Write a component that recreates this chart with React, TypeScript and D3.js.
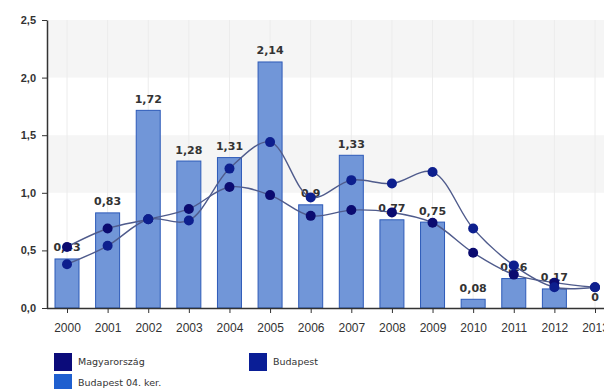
import React, { useEffect, useRef } from 'react';
import * as d3 from 'd3';

const years = ['2000', '2001', '2002', '2003', '2004', '2005', '2006', '2007', '2008', '2009', '2010', '2011', '2012', '2013'];
const kerulet = [0.43, 0.83, 1.72, 1.28, 1.31, 2.14, 0.9, 1.33, 0.77, 0.75, 0.08, 0.26, 0.17, 0];
const magyarorszag = [0.53, 0.69, 0.77, 0.86, 1.05, 0.98, 0.8, 0.85, 0.83, 0.74, 0.48, 0.29, 0.22, 0.18];
const budapest = [0.38, 0.54, 0.77, 0.76, 1.21, 1.44, 0.96, 1.11, 1.08, 1.18, 0.69, 0.37, 0.18, 0.18];
const yTicks = [0, 0.5, 1, 1.5, 2, 2.5];
const legendItems = ['Magyarország', 'Budapest', 'Budapest 04. ker.'];

const fmt = (v: number) => String(v).replace('.', ',');

const App: React.FC = () => {
  const ref = useRef<SVGSVGElement>(null);

  useEffect(() => {
    const width = 604;
    const height = 389;
    const svg = d3.select(ref.current)
      .attr('width', width)
      .attr('height', height)
      .style('font-family', '"DejaVu Sans", Verdana, sans-serif');
    svg.selectAll('*').remove();

    const x = d3.scalePoint<string>().domain(years).range([67, 595]);
    const y = d3.scaleLinear().domain([0, 2.5]).range([308, 20]);
    const left = 47;
    const barW = 25;

    // background bands
    const bands = [[2, 2.5], [1, 1.5]];
    svg.append('g').selectAll('rect').data(bands).join('rect')
      .attr('x', left).attr('width', width - left)
      .attr('y', d => y(d[1])).attr('height', d => y(d[0]) - y(d[1]))
      .attr('fill', '#f5f5f5');

    // vertical grid
    svg.append('g').selectAll('line').data(years).join('line')
      .attr('x1', d => x(d)!).attr('x2', d => x(d)!)
      .attr('y1', y(2.5)).attr('y2', y(0))
      .attr('stroke', '#ececec');

    // bars
    svg.append('g').selectAll('rect').data(kerulet).join('rect')
      .attr('x', (d, i) => x(years[i])! - barW / 2 + 0.5)
      .attr('y', d => y(d) + 0.5)
      .attr('width', barW - 1)
      .attr('height', d => Math.max(0, y(0) - y(d) - 0.5))
      .attr('fill', '#7196d8')
      .attr('stroke', '#2d5ab8')
      .attr('stroke-width', 1)
      .attr('display', d => (d > 0 ? null : 'none'));

    // bar labels
    svg.append('g').selectAll('text').data(kerulet).join('text')
      .attr('x', (d, i) => x(years[i])!)
      .attr('y', d => y(d) - 7)
      .attr('text-anchor', 'middle')
      .attr('font-size', 11)
      .attr('font-weight', 'bold')
      .attr('fill', '#333')
      .text(d => fmt(d));

    // axes
    const xAxis = svg.append('g')
      .attr('transform', `translate(0,${y(0)})`)
      .call(d3.axisBottom(x).tickSize(5).tickSizeOuter(0).tickPadding(10));
    xAxis.select('.domain').attr('d', `M${left},0.5H${width}`).attr('stroke', '#333').attr('stroke-width', 1.5);
    xAxis.selectAll('.tick line').attr('stroke', '#333');
    xAxis.selectAll('.tick text').attr('font-size', 12).attr('fill', '#333').attr('font-family', null);

    const yAxis = svg.append('g')
      .attr('transform', `translate(${left},0)`)
      .call(d3.axisLeft(y).tickValues(yTicks).tickSize(5).tickSizeOuter(0).tickPadding(6)
        .tickFormat(d => d3.format('.1f')(d as number).replace('.', ',')));
    yAxis.select('.domain').attr('stroke', '#333').attr('stroke-width', 1.5);
    yAxis.selectAll('.tick line').attr('stroke', '#333');
    yAxis.selectAll('.tick text').attr('font-size', 11).attr('font-weight', 'bold').attr('fill', '#333').attr('font-family', null);

    // lines
    const line = d3.line<number>()
      .x((d, i) => x(years[i])!)
      .y(d => y(d))
      .curve(d3.curveCatmullRom.alpha(0.5));

    const series = [
      { values: magyarorszag, color: '#0b0b70' },
      { values: budapest, color: '#0d1f8e' },
    ];
    series.forEach(s => {
      svg.append('path')
        .datum(s.values)
        .attr('fill', 'none')
        .attr('stroke', '#4f5b8c')
        .attr('stroke-width', 1.4)
        .attr('d', line);
    });
    series.forEach(s => {
      svg.append('g').selectAll('circle').data(s.values).join('circle')
        .attr('cx', (d, i) => x(years[i])!)
        .attr('cy', d => y(d))
        .attr('r', 5)
        .attr('fill', s.color);
    });

    // legend
    const legendColors = ['#0b0b7a', '#0a1e96', '#1f5fcf'];
    const legendPos = [[54, 353], [249, 353], [54, 374]];
    const lg = svg.append('g').selectAll('g').data(legendItems).join('g')
      .attr('transform', (d, i) => `translate(${legendPos[i][0]},${legendPos[i][1]})`);
    lg.append('rect').attr('width', 18).attr('height', 18).attr('fill', (d, i) => legendColors[i]);
    lg.append('text').attr('x', 24).attr('y', 12).attr('font-size', 9.5).attr('fill', '#333').text(d => d);
  }, []);

  return <svg ref={ref} style={{ position: 'absolute', left: 0, top: 0 }}></svg>;
};

export default App;
